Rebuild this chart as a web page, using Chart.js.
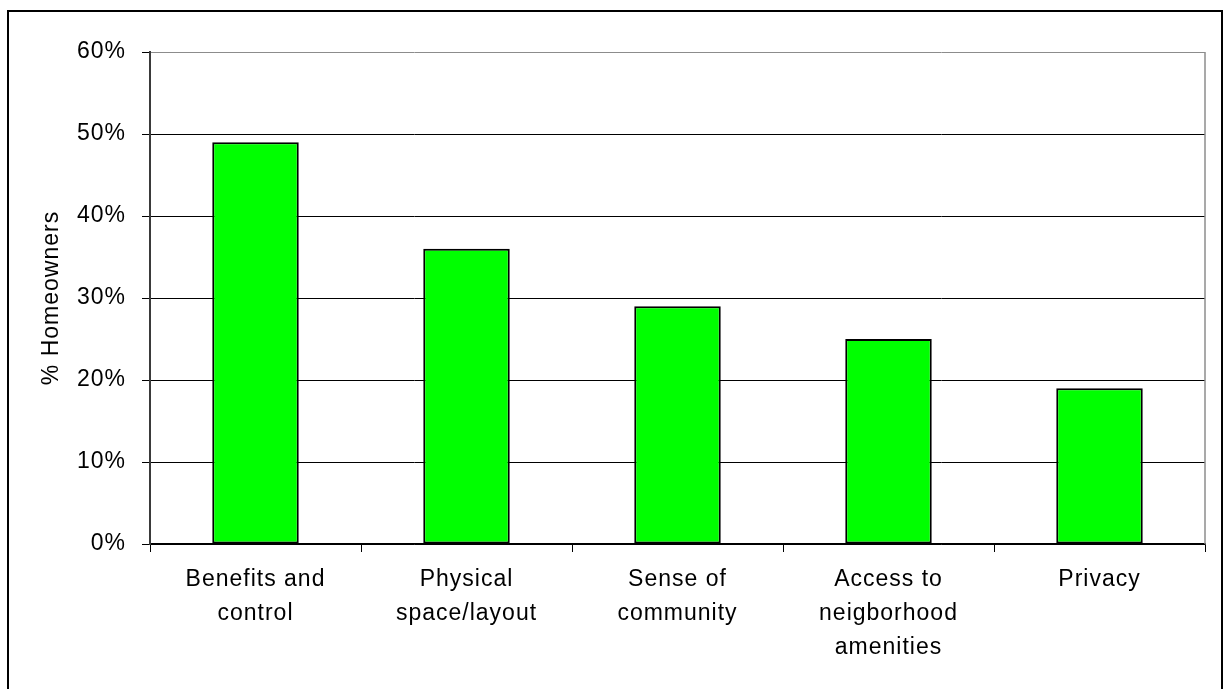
<!DOCTYPE html>
<html>
<head>
<meta charset="utf-8">
<style>
  html, body { margin: 0; padding: 0; background: #fff; }
  #wrap { position: relative; width: 1228px; height: 689px; }
</style>
<script src="https://cdn.jsdelivr.net/npm/chart.js@4.4.1/dist/chart.umd.min.js"></script>
</head>
<body>
<div id="wrap"><canvas id="c" width="1228" height="689"></canvas></div>
<script>
// Reasons homeowners gave, share of respondents (%)
const categories = [
  ['Benefits and', 'control'],
  ['Physical', 'space/layout'],
  ['Sense of', 'community'],
  ['Access to', 'neigborhood', 'amenities'],
  ['Privacy']
];
const shareValues = [49, 36, 29, 25, 19];
const yTicks = [0, 10, 20, 30, 40, 50, 60];
const yAxisTitle = '% Homeowners';

const FONT = "'Liberation Sans', Arial, sans-serif";

// Frame around the whole chart, gray plot-area border on the right, wider text spacing
const framePlugin = {
  id: 'frame',
  beforeDraw(chart) {
    chart.ctx.letterSpacing = '1px';
  },
  afterDraw(chart) {
    const ctx = chart.ctx;
    const a = chart.chartArea;
    ctx.save();
    ctx.strokeStyle = '#8c8c8c';
    ctx.lineWidth = 1.5;
    ctx.beginPath();
    ctx.moveTo(a.right, a.top);
    ctx.lineTo(a.right, a.bottom);
    ctx.stroke();
    ctx.strokeStyle = '#000';
    ctx.lineWidth = 2;
    ctx.strokeRect(8, 11, 1214, 700);
    ctx.restore();
  }
};

new Chart(document.getElementById('c'), {
  type: 'bar',
  data: {
    labels: categories,
    datasets: [{
      data: shareValues,
      backgroundColor: '#00ff00',
      borderColor: '#000',
      borderWidth: 2,
      borderSkipped: false,
      barPercentage: 0.41,
      categoryPercentage: 1
    }]
  },
  options: {
    responsive: false,
    animation: false,
    layout: { padding: { top: 52, right: 23, left: 0, bottom: 0 } },
    plugins: {
      legend: { display: false },
      tooltip: { enabled: false },
      title: { display: false }
    },
    scales: {
      x: {
        offset: true,
        grid: {
          offset: true,
          drawOnChartArea: false,
          color: '#000',
          tickLength: 8,
          lineWidth: 1
        },
        border: { color: '#000', width: 1.5 },
        ticks: {
          color: '#000',
          font: { family: FONT, size: 23, lineHeight: 1.48 },
          padding: 11,
          maxRotation: 0,
          autoSkip: false
        },
        afterFit(scale) { scale.height = 145; }
      },
      y: {
        min: 0,
        max: 60,
        afterBuildTicks(scale) { scale.ticks = yTicks.map(v => ({ value: v })); },
        grid: {
          color: ctx => (ctx.tick && ctx.tick.value === 60) ? '#8c8c8c' : '#000',
          tickColor: '#000',
          tickLength: 8,
          lineWidth: 1
        },
        border: { color: '#3a3a3a', width: 2 },
        ticks: {
          color: '#000',
          font: { family: FONT, size: 23 },
          padding: 16,
          callback: v => v + '%'
        },
        title: {
          display: true,
          text: yAxisTitle,
          color: '#000',
          font: { family: FONT, size: 23, lineHeight: 1.2 },
          padding: { top: 38, bottom: 0 }
        },
        afterFit(scale) { scale.width = 150; }
      }
    }
  },
  plugins: [framePlugin]
});
</script>
</body>
</html>
